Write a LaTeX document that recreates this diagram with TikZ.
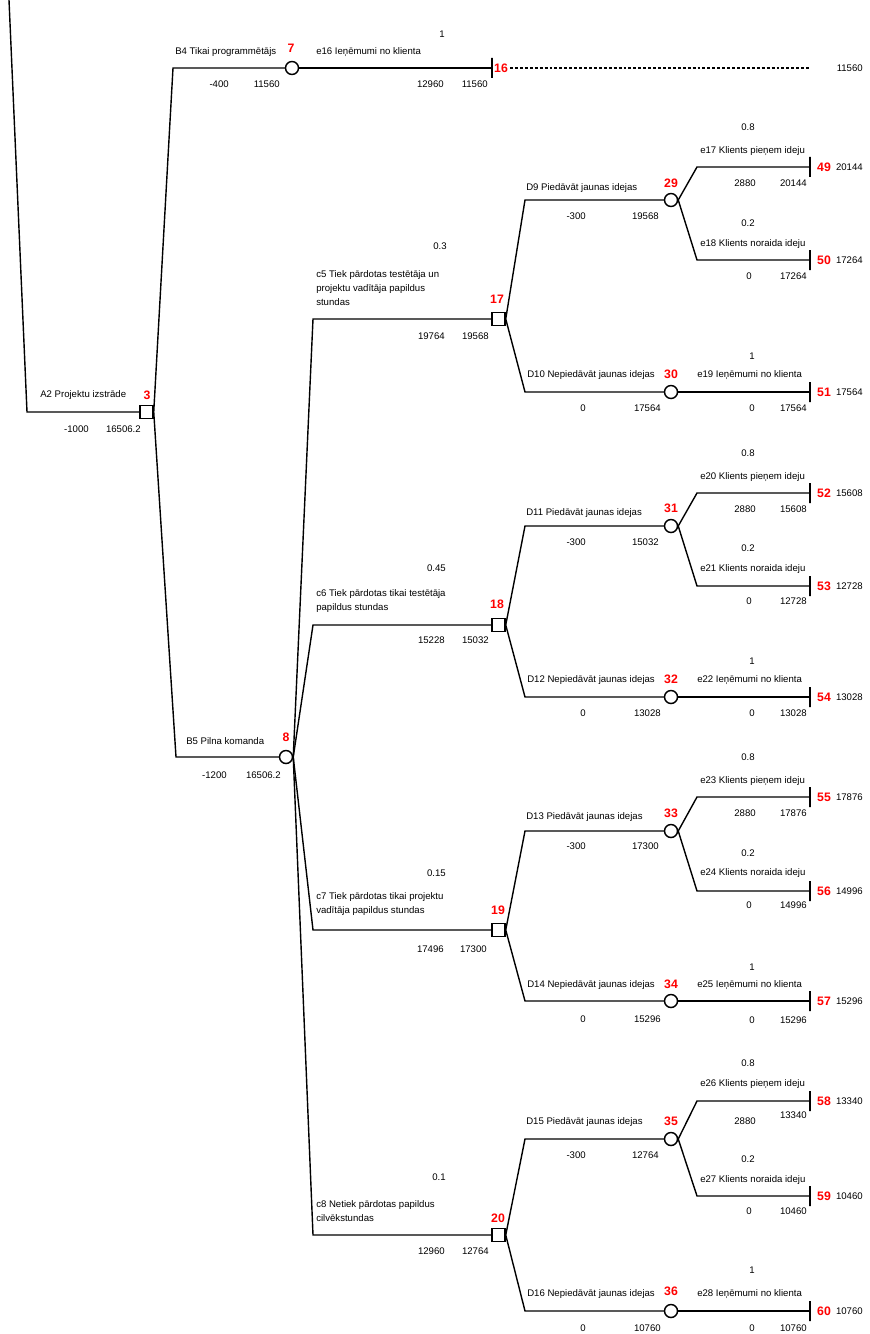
\documentclass[tikz,border=0pt]{standalone}
\usepackage{fontspec}
\setmainfont{Liberation Sans}
\usepackage{tikz}
\usetikzlibrary{positioning}
\tikzset{zars/.style={line width=1.05pt}}
\tikzset{punkt/.style={line width=0.8pt,dash pattern=on 2.2pt off 1.5pt}}
\tikzset{lem/.style={draw,rectangle,minimum size=9.75pt,inner sep=0pt,line width=1.1pt,fill=white}}
\tikzset{iesp/.style={draw,circle,minimum size=9.75pt,inner sep=0pt,line width=1.1pt,fill=white}}
\tikzset{beig/.style={draw,rectangle,minimum width=0pt,minimum height=15pt,inner sep=0pt,line width=1.6pt}}
\tikzset{txt/.style={inner sep=0pt,font=\fontsize{7.2}{10.5}\selectfont}}
\tikzset{nr/.style={inner sep=0pt,text=red,font=\bfseries\fontsize{9.2}{10}\selectfont}}

\begin{document}
\begin{tikzpicture}[x=0.75pt,y=-0.75pt]
            \useasboundingbox (0,0) rectangle (869,1334);
            % sakne
            \coordinate (sakums) at (9,0);
            \node[lem] (3) at (146.5,412) {};
            \node[nr] (n3) at (147,395) {3};
            \node[txt,anchor=west] (a2) at (40,395) {A2 Projektu izstrāde};
            \node[txt,anchor=east] (a2v1) at (89,429) {-1000};
            \node[txt,anchor=east] (a2v2) at (141,429) {16506.2};
            \draw[zars] (sakums) -- (27,412) -- (3.west);

            % B4
            \node[iesp] (7) at (292,68) {};
            \node[nr] (n7) at (291,48) {7};
            \node[txt,anchor=west] (b4) at (175,52) {B4 Tikai programmētājs};
            \node[txt,anchor=east] (b4v1) at (229,84) {-400};
            \node[txt,anchor=east] (b4v2) at (280,84) {11560};
            \draw[zars] (3.east) -- (173,68) -- (7.west);

            \node[beig] (16) at (492,68) {};
            \node[nr] (n16) at (501,68) {16};
            \node[txt,anchor=west] (e16) at (316,52) {e16 Ieņēmumi no klienta};
            \node[txt,anchor=east] (e16p) at (445,34) {1};
            \node[txt,anchor=east] (e16v1) at (444,84) {12960};
            \node[txt,anchor=east] (e16v2) at (488,84) {11560};
            \coordinate (dbeig) at (810,68);
            \node[txt,anchor=east] (r16) at (863,68) {11560};
            \draw[zars] (7.east) -- (16);
            \draw[punkt] ([xshift=1.5pt]n16.east) -- (dbeig);

            % B5
            \node[iesp] (8) at (286,757) {};
            \node[nr] (n8) at (286,737) {8};
            \node[txt,anchor=west] (b5) at (186,741) {B5 Pilna komanda};
            \node[txt,anchor=east] (b5v1) at (227,775) {-1200};
            \node[txt,anchor=east] (b5v2) at (281,775) {16506.2};
            \draw[zars] (3.east) -- (176,757) -- (8.west);

            % c5
            \node[lem] (17) at (498.5,319) {};
            \node[nr] (n17) at (497,299) {17};
            \node[txt,anchor=west,align=left] (c5) at (316,288) {c5 Tiek pārdotas testētāja un\\projektu vadītāja papildus\\stundas};
            \node[txt,anchor=east] (c5p) at (447,246) {0.3};
            \node[txt,anchor=east] (c5v1) at (445,336) {19764};
            \node[txt,anchor=east] (c5v2) at (489,336) {19568};
            \draw[zars] (8.east) -- (313,319) -- (17.west);

            % c6
            \node[lem] (18) at (498.5,625) {};
            \node[nr] (n18) at (497,604) {18};
            \node[txt,anchor=west,align=left] (c6) at (316,601) {c6 Tiek pārdotas tikai testētāja\\papildus stundas};
            \node[txt,anchor=east] (c6p) at (446,568) {0.45};
            \node[txt,anchor=east] (c6v1) at (445,640) {15228};
            \node[txt,anchor=east] (c6v2) at (489,640) {15032};
            \draw[zars] (8.east) -- (313,625) -- (18.west);

            % c7
            \node[lem] (19) at (498.5,930) {};
            \node[nr] (n19) at (498,910) {19};
            \node[txt,anchor=west,align=left] (c7) at (316,904) {c7 Tiek pārdotas tikai projektu\\vadītāja papildus stundas};
            \node[txt,anchor=east] (c7p) at (446,873) {0.15};
            \node[txt,anchor=east] (c7v1) at (444,949) {17496};
            \node[txt,anchor=east] (c7v2) at (487,949) {17300};
            \draw[zars] (8.east) -- (313,930) -- (19.west);

            % c8
            \node[lem] (20) at (498.5,1235) {};
            \node[nr] (n20) at (498,1218) {20};
            \node[txt,anchor=west,align=left] (c8) at (316,1211) {c8 Netiek pārdotas papildus\\cilvēkstundas};
            \node[txt,anchor=east] (c8p) at (446,1177) {0.1};
            \node[txt,anchor=east] (c8v1) at (445,1251) {12960};
            \node[txt,anchor=east] (c8v2) at (489,1251) {12764};
            \draw[zars] (8.east) -- (313,1235) -- (20.west);

            % 17 -> D9, D10
            \node[iesp] (29) at (671,200) {};
            \node[nr] (n29) at (671,183) {29};
            \node[txt,anchor=west] (d9) at (526,188) {D9 Piedāvāt jaunas idejas};
            \node[txt,anchor=east] (d9v1) at (586,216) {-300};
            \node[txt,anchor=east] (d9v2) at (659,216) {19568};
            \draw[zars] (17.east) -- (525,200) -- (29.west);

            \node[iesp] (30) at (671,392) {};
            \node[nr] (n30) at (671,374) {30};
            \node[txt,anchor=west] (d10) at (527,375) {D10 Nepiedāvāt jaunas idejas};
            \node[txt,anchor=east] (d10v1) at (586,408) {0};
            \node[txt,anchor=east] (d10v2) at (661,408) {17564};
            \draw[zars] (17.east) -- (525,392) -- (30.west);

            \node[beig] (49) at (810,167) {};
            \node[nr] (n49) at (824,167) {49};
            \node[txt,anchor=east] (r49) at (863,167) {20144};
            \node[txt,anchor=west] (e17) at (700,151) {e17 Klients pieņem ideju};
            \node[txt,anchor=east] (e17p) at (755,127) {0.8};
            \node[txt,anchor=east] (e17v1) at (756,183) {2880};
            \node[txt,anchor=east] (e17v2) at (807,183) {20144};
            \draw[zars] (29.east) -- (697,167) -- (49);

            \node[beig] (50) at (810,260) {};
            \node[nr] (n50) at (824,260) {50};
            \node[txt,anchor=east] (r50) at (863,260) {17264};
            \node[txt,anchor=west] (e18) at (700,244) {e18 Klients noraida ideju};
            \node[txt,anchor=east] (e18p) at (755,223) {0.2};
            \node[txt,anchor=east] (e18v1) at (752,276) {0};
            \node[txt,anchor=east] (e18v2) at (807,276) {17264};
            \draw[zars] (29.east) -- (697,260) -- (50);

            \node[beig] (51) at (810,392) {};
            \node[nr] (n51) at (824,392) {51};
            \node[txt,anchor=east] (r51) at (863,392) {17564};
            \node[txt,anchor=west] (e19) at (697,375) {e19 Ieņēmumi no klienta};
            \node[txt,anchor=east] (e19p) at (755,356) {1};
            \node[txt,anchor=east] (e19v1) at (755,408) {0};
            \node[txt,anchor=east] (e19v2) at (807,408) {17564};
            \draw[zars] (30.east) -- (51);

            % 18 -> D11, D12
            \node[iesp] (31) at (671,526) {};
            \node[nr] (n31) at (671,508) {31};
            \node[txt,anchor=west] (d11) at (526,513) {D11 Piedāvāt jaunas idejas};
            \node[txt,anchor=east] (d11v1) at (586,542) {-300};
            \node[txt,anchor=east] (d11v2) at (659,542) {15032};
            \draw[zars] (18.east) -- (525,526) -- (31.west);

            \node[iesp] (32) at (671,697) {};
            \node[nr] (n32) at (671,679) {32};
            \node[txt,anchor=west] (d12) at (527,680) {D12 Nepiedāvāt jaunas idejas};
            \node[txt,anchor=east] (d12v1) at (586,713) {0};
            \node[txt,anchor=east] (d12v2) at (661,713) {13028};
            \draw[zars] (18.east) -- (525,697) -- (32.west);

            \node[beig] (52) at (810,493) {};
            \node[nr] (n52) at (824,493) {52};
            \node[txt,anchor=east] (r52) at (863,493) {15608};
            \node[txt,anchor=west] (e20) at (700,477) {e20 Klients pieņem ideju};
            \node[txt,anchor=east] (e20p) at (755,453) {0.8};
            \node[txt,anchor=east] (e20v1) at (756,509) {2880};
            \node[txt,anchor=east] (e20v2) at (807,509) {15608};
            \draw[zars] (31.east) -- (697,493) -- (52);

            \node[beig] (53) at (810,586) {};
            \node[nr] (n53) at (824,586) {53};
            \node[txt,anchor=east] (r53) at (863,586) {12728};
            \node[txt,anchor=west] (e21) at (700,569) {e21 Klients noraida ideju};
            \node[txt,anchor=east] (e21p) at (755,548) {0.2};
            \node[txt,anchor=east] (e21v1) at (752,601) {0};
            \node[txt,anchor=east] (e21v2) at (807,601) {12728};
            \draw[zars] (31.east) -- (697,586) -- (53);

            \node[beig] (54) at (810,697) {};
            \node[nr] (n54) at (824,697) {54};
            \node[txt,anchor=east] (r54) at (863,697) {13028};
            \node[txt,anchor=west] (e22) at (697,680) {e22 Ieņēmumi no klienta};
            \node[txt,anchor=east] (e22p) at (755,661) {1};
            \node[txt,anchor=east] (e22v1) at (755,713) {0};
            \node[txt,anchor=east] (e22v2) at (807,713) {13028};
            \draw[zars] (32.east) -- (54);

            % 19 -> D13, D14
            \node[iesp] (33) at (671,831) {};
            \node[nr] (n33) at (671,813) {33};
            \node[txt,anchor=west] (d13) at (526,817) {D13 Piedāvāt jaunas idejas};
            \node[txt,anchor=east] (d13v1) at (586,846) {-300};
            \node[txt,anchor=east] (d13v2) at (659,846) {17300};
            \draw[zars] (19.east) -- (525,831) -- (33.west);

            \node[iesp] (34) at (671,1001) {};
            \node[nr] (n34) at (671,984) {34};
            \node[txt,anchor=west] (d14) at (527,985) {D14 Nepiedāvāt jaunas idejas};
            \node[txt,anchor=east] (d14v1) at (586,1019) {0};
            \node[txt,anchor=east] (d14v2) at (661,1019) {15296};
            \draw[zars] (19.east) -- (525,1001) -- (34.west);

            \node[beig] (55) at (810,797) {};
            \node[nr] (n55) at (824,797) {55};
            \node[txt,anchor=east] (r55) at (863,797) {17876};
            \node[txt,anchor=west] (e23) at (700,781) {e23 Klients pieņem ideju};
            \node[txt,anchor=east] (e23p) at (755,757) {0.8};
            \node[txt,anchor=east] (e23v1) at (756,813) {2880};
            \node[txt,anchor=east] (e23v2) at (807,813) {17876};
            \draw[zars] (33.east) -- (697,797) -- (55);

            \node[beig] (56) at (810,891) {};
            \node[nr] (n56) at (824,891) {56};
            \node[txt,anchor=east] (r56) at (863,891) {14996};
            \node[txt,anchor=west] (e24) at (700,873) {e24 Klients noraida ideju};
            \node[txt,anchor=east] (e24p) at (755,853) {0.2};
            \node[txt,anchor=east] (e24v1) at (752,905) {0};
            \node[txt,anchor=east] (e24v2) at (807,905) {14996};
            \draw[zars] (33.east) -- (697,891) -- (56);

            \node[beig] (57) at (810,1001) {};
            \node[nr] (n57) at (824,1001) {57};
            \node[txt,anchor=east] (r57) at (863,1001) {15296};
            \node[txt,anchor=west] (e25) at (697,985) {e25 Ieņēmumi no klienta};
            \node[txt,anchor=east] (e25p) at (755,967) {1};
            \node[txt,anchor=east] (e25v1) at (755,1020) {0};
            \node[txt,anchor=east] (e25v2) at (807,1020) {15296};
            \draw[zars] (34.east) -- (57);

            % 20 -> D15, D16
            \node[iesp] (35) at (671,1139) {};
            \node[nr] (n35) at (671,1121) {35};
            \node[txt,anchor=west] (d15) at (526,1122) {D15 Piedāvāt jaunas idejas};
            \node[txt,anchor=east] (d15v1) at (586,1155) {-300};
            \node[txt,anchor=east] (d15v2) at (659,1155) {12764};
            \draw[zars] (20.east) -- (525,1139) -- (35.west);

            \node[iesp] (36) at (671,1311) {};
            \node[nr] (n36) at (671,1291) {36};
            \node[txt,anchor=west] (d16) at (527,1294) {D16 Nepiedāvāt jaunas idejas};
            \node[txt,anchor=east] (d16v1) at (586,1328) {0};
            \node[txt,anchor=east] (d16v2) at (661,1328) {10760};
            \draw[zars] (20.east) -- (525,1311) -- (36.west);

            \node[beig] (58) at (810,1101) {};
            \node[nr] (n58) at (824,1101) {58};
            \node[txt,anchor=east] (r58) at (863,1101) {13340};
            \node[txt,anchor=west] (e26) at (700,1084) {e26 Klients pieņem ideju};
            \node[txt,anchor=east] (e26p) at (755,1063) {0.8};
            \node[txt,anchor=east] (e26v1) at (756,1121) {2880};
            \node[txt,anchor=east] (e26v2) at (807,1115) {13340};
            \draw[zars] (35.east) -- (697,1101) -- (58);

            \node[beig] (59) at (810,1196) {};
            \node[nr] (n59) at (824,1196) {59};
            \node[txt,anchor=east] (r59) at (863,1196) {10460};
            \node[txt,anchor=west] (e27) at (700,1180) {e27 Klients noraida ideju};
            \node[txt,anchor=east] (e27p) at (755,1159) {0.2};
            \node[txt,anchor=east] (e27v1) at (752,1211) {0};
            \node[txt,anchor=east] (e27v2) at (807,1211) {10460};
            \draw[zars] (35.east) -- (697,1196) -- (59);

            \node[beig] (60) at (810,1311) {};
            \node[nr] (n60) at (824,1311) {60};
            \node[txt,anchor=east] (r60) at (863,1311) {10760};
            \node[txt,anchor=west] (e28) at (697,1294) {e28 Ieņēmumi no klienta};
            \node[txt,anchor=east] (e28p) at (755,1270) {1};
            \node[txt,anchor=east] (e28v1) at (755,1328) {0};
            \node[txt,anchor=east] (e28v2) at (807,1328) {10760};
            \draw[zars] (36.east) -- (60);
        \end{tikzpicture}
\end{document}
